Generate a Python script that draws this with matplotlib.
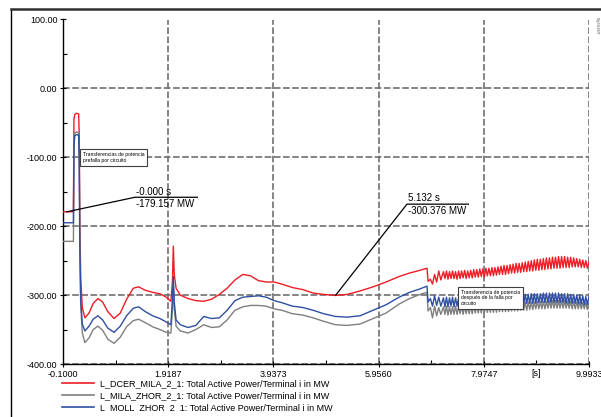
import numpy as np
import matplotlib
matplotlib.use("Agg")
import matplotlib.pyplot as plt
from matplotlib.lines import Line2D
from matplotlib.patches import Rectangle

plt.rcParams['font.family'] = ['Liberation Sans', 'DejaVu Sans']

# ---- data ----
labels = ["L_DCER_MILA_2_1: Total Active Power/Terminal i in MW",
          "L_MILA_ZHOR_2_1: Total Active Power/Terminal i in MW",
          "L_MOLL_ZHOR_2_1: Total Active Power/Terminal i in MW"]
colors = ["#ee1c25", "#7f7f7f", "#2f4fa3"]

# smooth part (s)
t_main = [-0.10, 0.100, 0.110, 0.125, 0.16, 0.20, 0.212, 0.222, 0.240, 0.27, 0.32,
          0.40, 0.48, 0.57, 0.66, 0.76, 0.88, 1.00, 1.12, 1.25, 1.35, 1.48, 1.62,
          1.76, 1.88, 1.97, 2.00, 2.017, 2.035, 2.07, 2.15, 2.30, 2.45, 2.60, 2.75,
          2.90, 3.05, 3.20, 3.35, 3.50, 3.65, 3.80, 3.95, 4.10, 4.30, 4.50, 4.70,
          4.90, 5.13, 5.35, 5.60, 5.85, 6.10, 6.35, 6.55, 6.75, 6.885,
          6.905, 6.95, 6.99, 7.03, 7.07, 7.11, 7.15]
red_main = [-179, -179, -45, -38, -36, -37, -70, -190, -275, -318, -333,
            -326, -312, -305, -310, -324, -334, -326, -306, -290, -288, -293, -296,
            -298, -303, -309, -280, -229, -270, -290, -300, -305, -308, -309, -306,
            -299, -290, -278, -270, -272, -279, -281, -281, -284, -289, -292, -297,
            -299, -300.4, -299, -294, -288, -281, -273, -268, -264, -261,
            -280, -277, -284, -270, -281, -265, -278]
gray_main = [-222, -222, -80, -65, -63, -65, -100, -220, -315, -355, -369,
             -362, -350, -345, -351, -364, -370, -361, -346, -337, -335, -340, -346,
             -350, -354, -355, -320, -285, -320, -345, -352, -355, -350, -343, -347,
             -346, -336, -322, -317, -315, -315, -316, -320, -322, -327, -329, -333,
             -338, -343, -344, -342, -334, -326, -313, -305, -299, -296,
             -323, -318, -333, -316, -330, -318, -328]
blue_main = [-195, -195, -85, -69, -67, -68, -105, -225, -305, -342, -352,
             -345, -335, -330, -336, -348, -354, -345, -330, -319, -317, -324, -330,
             -334, -339, -343, -305, -273, -310, -336, -343, -347, -344, -331, -334,
             -333, -322, -308, -303, -302, -301, -303, -308, -311, -316, -318, -322,
             -327, -331, -332, -330, -322, -314, -303, -296, -291, -287,
             -310, -305, -316, -301, -315, -303, -316]

# fast oscillation after the second switching (peaks and troughs)
t_osc_start, t_osc_end = 7.20, 9.99
red_osc = [-266, -276, -265, -277, -266, -276, -265, -276, -266, -277,
           -265, -276, -265, -275, -264, -276, -265, -275, -264, -275,
           -263, -274, -263, -274, -262, -273, -262, -274, -261, -272,
           -261, -272, -260, -272, -260, -271, -259, -270, -258, -270,
           -257, -270, -257, -269, -256, -268, -255, -268, -254, -267,
           -254, -267, -253, -266, -252, -266, -251, -265, -250, -265,
           -249, -264, -248, -264, -248, -263, -247, -263, -246, -262,
           -246, -262, -245, -261, -245, -261, -244, -261, -244, -260,
           -244, -260, -245, -260, -245, -259, -246, -259, -247, -259,
           -248, -260, -249, -260, -250, -261, -252]
gray_osc = [-317, -328, -316, -329, -317, -328, -317, -328, -316, -328,
            -317, -327, -316, -328, -316, -327, -316, -327, -315, -327,
            -315, -326, -315, -326, -315, -326, -314, -326, -314, -325,
            -314, -325, -314, -325, -313, -325, -313, -324, -313, -324,
            -313, -324, -312, -324, -312, -323, -312, -323, -311, -323,
            -311, -322, -311, -322, -310, -322, -310, -321, -310, -321,
            -310, -320, -309, -320, -309, -320, -309, -320, -309, -319,
            -308, -319, -308, -319, -308, -319, -308, -319, -308, -319,
            -308, -319, -309, -319, -309, -320, -309, -320, -310, -320,
            -310, -320, -311, -320, -311, -321, -312]
blue_osc = [-304, -317, -303, -317, -304, -316, -303, -317, -304, -316,
            -304, -317, -303, -316, -304, -317, -303, -316, -303, -316,
            -303, -316, -302, -316, -303, -315, -302, -316, -302, -315,
            -302, -315, -302, -315, -301, -315, -302, -314, -301, -315,
            -301, -314, -301, -314, -300, -314, -300, -313, -300, -313,
            -299, -313, -299, -313, -299, -312, -299, -312, -298, -312,
            -298, -312, -298, -311, -298, -311, -297, -311, -297, -311,
            -297, -311, -297, -311, -297, -311, -297, -311, -298, -311,
            -298, -312, -298, -312, -299, -312, -299, -312, -300, -313,
            -300, -313, -301, -314, -302, -314, -303]

xticks = [-0.1000, 1.9187, 3.9373, 5.9560, 7.9747, 9.9933]
xticklabels = ["-0.1000", "1.9187", "3.9373", "5.9560", "7.9747", "9.9933"]
yticks = [-400, -300, -200, -100, 0, 100]

t_osc = list(np.linspace(t_osc_start, t_osc_end, len(red_osc)))
t_all = t_main + t_osc
series = [red_main + red_osc, gray_main + gray_osc, blue_main + blue_osc]

fig = plt.figure(figsize=(6.01, 4.17), dpi=100)
ax = fig.add_axes([63 / 601, 1 - 364 / 417, 526 / 601, 344.5 / 417])

for vals, c in zip(series, colors):
    ax.plot(t_all, vals, color=c, lw=1.0, zorder=3)

ax.set_xlim(xticks[0], xticks[-1])
ax.set_ylim(-400, 100)
ax.set_xticks(xticks)
ax.set_xticklabels(xticklabels)
ax.set_xticks([(a + b) / 2 for a, b in zip(xticks[:-1], xticks[1:])], minor=True)
ax.set_yticks(yticks)
ax.set_yticklabels(["%.2f" % v for v in yticks])
ax.set_yticks([-350, -250, -150, -50, 50], minor=True)
ax.tick_params(which='major', direction='inout', length=4, width=0.8, labelsize=6.5, pad=2)
ax.tick_params(which='minor', direction='in', length=3, width=0.8)
ax.grid(True, which='major', color='#707070', lw=1.2, ls=(0, (4, 1.5)), zorder=1)
for s in ['top', 'right']:
    ax.spines[s].set_visible(False)
ax.spines['left'].set_linewidth(1.0)
ax.spines['bottom'].set_linewidth(1.0)
ax.text(8.98, -407, "[s]", fontsize=6.5, ha='center', va='top')

# boxes with comments
ax.text(0.28, -92, "Transferencias de potencia\nprefalla por circuito", fontsize=3.6,
        va='top', ha='left', zorder=6,
        bbox=dict(boxstyle='square,pad=0.6', fc='white', ec='#404040', lw=0.8))
ax.text(7.54, -292, "Transferencia de potencia\ndespués de la falla por\ncircuito", fontsize=3.6,
        va='top', ha='left', zorder=6,
        bbox=dict(boxstyle='square,pad=0.6', fc='white', ec='#404040', lw=0.8))

# cursor labels
ax.plot([-0.03, 1.28, 2.48], [-179.2, -158, -158], color='black', lw=0.9, zorder=5)
ax.text(1.30, -157, "-0.000 s", fontsize=7, va='bottom', ha='left', zorder=5)
ax.text(1.30, -160, "-179.157 MW", fontsize=7, va='top', ha='left', zorder=5)
ax.plot([5.13, 6.50, 7.68], [-300.4, -168, -168], color='black', lw=0.9, zorder=5)
ax.text(6.52, -167, "5.132 s", fontsize=7, va='bottom', ha='left', zorder=5)
ax.text(6.52, -170, "-300.376 MW", fontsize=7, va='top', ha='left', zorder=5)

# legend below the axes
handles = [Line2D([], [], color=c, lw=1.2) for c in colors]
fig.legend(handles, labels, loc='upper left', bbox_to_anchor=(56 / 601, 1 - 373 / 417),
           frameon=False, fontsize=6.5, handlelength=3.5, handletextpad=0.65,
           labelspacing=0.3, borderpad=0.2)

# crop the last legend row like the original screen capture, then outer frame
fig.patches.append(Rectangle((12 / 601, 0), 1, 5.5 / 417, transform=fig.transFigure,
                             fc='white', ec='none', zorder=10))
fig.add_artist(Line2D([11 / 601, 11 / 601], [0, 1 - 9 / 417], color='black', lw=1.0,
                      transform=fig.transFigure, zorder=11))
fig.add_artist(Line2D([11 / 601, 1], [1 - 9 / 417, 1 - 9 / 417], color='#303030', lw=1.8,
                      transform=fig.transFigure, zorder=11))
fig.text(597 / 601, 1 - 26 / 417, "DIgSILENT", fontsize=2.5, rotation=270,
         ha='center', va='center', color='#555555')

fig.savefig("out.png", dpi=100)
